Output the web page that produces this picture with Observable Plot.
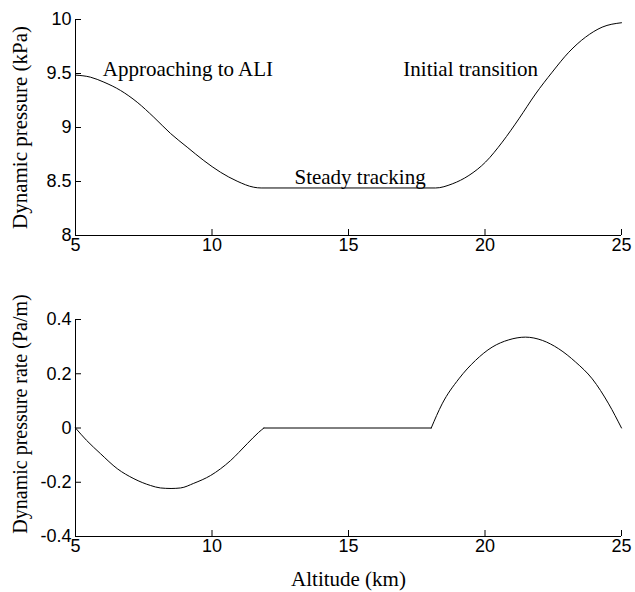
<!DOCTYPE html>
<html>
<head>
<meta charset="utf-8">
<script src="https://cdn.jsdelivr.net/npm/d3@7"></script>
<script src="https://cdn.jsdelivr.net/npm/@observablehq/plot@0.6"></script>
<style>
  body { margin: 0; background: #fff; }
  #chart { width: 635px; }
  #chart svg { display: block; background: #fff; }
  #chart svg text { font-family: "Liberation Sans", Arial, sans-serif; font-size: 18px; fill: #000; }
  #chart svg text.serif, #chart svg g.serif text { font-family: "Liberation Serif", "Times New Roman", serif; font-size: 21px; }
  #chart svg g.serif-small text { font-family: "Liberation Serif", "Times New Roman", serif; font-size: 20px; }
</style>
</head>
<body>
<div id="chart"></div>
<script>
// Top panel: dynamic pressure (kPa) vs altitude (km)
const altTop = [5, 5.55, 6.04, 6.65, 7.26, 7.87, 8.48, 9.09, 9.7, 10.31, 10.92, 11.53, 11.8,
                18.19, 18.8, 19.41, 20.02, 20.63, 21.24, 21.85, 22.46, 23.07, 23.68, 24.29, 25];
const pressure = [9.485, 9.466, 9.42, 9.343, 9.234, 9.095, 8.945, 8.818, 8.694, 8.586, 8.503, 8.447, 8.44,
                  8.44, 8.478, 8.556, 8.68, 8.864, 9.08, 9.31, 9.512, 9.697, 9.836, 9.929, 9.97];

// Bottom panel: dynamic pressure rate (Pa/m) vs altitude (km), by flight phase
const altBottom = [5, 5.4, 5.92, 6.53, 7.14, 7.75, 8.11, 8.5, 8.85, 9.33, 9.95, 10.68, 11.29, 11.71, 11.9,
                   11.9, 18.03,
                   18.03, 18.43, 19.04, 19.65, 20.26, 20.87, 21.48, 22.1, 22.7, 23.32, 23.93, 24.53, 25];
const rate = [0, -0.045, -0.095, -0.15, -0.187, -0.212, -0.221, -0.223, -0.221, -0.204, -0.175, -0.12, -0.058, -0.016, 0,
              0, 0,
              0, 0.089, 0.181, 0.249, 0.298, 0.325, 0.335, 0.323, 0.292, 0.243, 0.181, 0.089, 0];
const phase = [...Array(15).fill("approach"), ...Array(2).fill("steady"), ...Array(13).fill("initial")];

// Annotations (data coordinates, text baseline)
const noteText = ["Approaching to ALI", "Initial transition", "Steady tracking"];
const noteX = [6.0, 17.01, 13.02];
const noteY = [9.537, 9.537, 8.528];

const xTicks = [5, 10, 15, 20, 25];
const yTicksTop = [8, 8.5, 9, 9.5, 10];
const yTicksBottom = [-0.4, -0.2, 0, 0.2, 0.4];

const topData = altTop.map((a, i) => ({alt: a, q: pressure[i]}));
const bottomData = altBottom.map((a, i) => ({alt: a, r: rate[i], phase: phase[i]}));
const notes = noteText.map((t, i) => ({t, x: noteX[i], y: noteY[i]}));

const common = {width: 635, marginLeft: 75, marginRight: 14, style: {background: "#fff", color: "#000"}};
const serif = {fontFamily: "Liberation Serif, Times New Roman, serif", fontSize: 21, fill: "#000", className: "serif"};

const topPlot = Plot.plot({
  ...common,
  height: 290, marginTop: 19, marginBottom: 55,
  x: {domain: [5, 25]},
  y: {domain: [8, 10]},
  marks: [
    Plot.ruleX([5], {stroke: "#000", strokeWidth: 1}),
    Plot.ruleY([8], {stroke: "#000", strokeWidth: 1}),
    Plot.axisX(xTicks, {tickSize: -6, tickPadding: 9, label: null, tickFormat: d => String(d)}),
    Plot.axisY(yTicksTop, {tickSize: -6, tickPadding: 10, label: null, tickFormat: d => String(d)}),
    Plot.text(["Dynamic pressure (kPa)"], {...serif, frameAnchor: "left", textAnchor: "middle", rotate: -90, dx: -55, dy: 0, lineAnchor: "middle"}),
    Plot.line(topData, {x: "alt", y: "q", stroke: "#000", strokeWidth: 1, curve: "monotone-x"}),
    Plot.text(notes, {...serif, x: "x", y: "y", text: "t", textAnchor: "start", lineAnchor: "bottom", dy: 6})
  ]
});

const bottomPlot = Plot.plot({
  ...common,
  height: 302, marginTop: 29, marginBottom: 56,
  x: {domain: [5, 25]},
  y: {domain: [-0.4, 0.4]},
  marks: [
    Plot.ruleX([5], {stroke: "#000", strokeWidth: 1}),
    Plot.ruleY([-0.4], {stroke: "#000", strokeWidth: 1}),
    Plot.axisX(xTicks, {tickSize: -6, tickPadding: 9, label: null, tickFormat: d => String(d)}),
    Plot.axisY(yTicksBottom, {tickSize: -6, tickPadding: 10, label: null, tickFormat: d => String(d)}),
    Plot.text(["Dynamic pressure rate (Pa/m)"], {...serif, fontSize: 20, className: "serif-small", frameAnchor: "left", textAnchor: "middle", rotate: -90, dx: -55, dy: -14, lineAnchor: "middle"}),
    Plot.text(["Altitude (km)"], {...serif, frameAnchor: "bottom", textAnchor: "middle", dy: 49, lineAnchor: "bottom"}),
    Plot.line(bottomData, {x: "alt", y: "r", z: "phase", stroke: "#000", strokeWidth: 1, curve: "monotone-x"})
  ]
});

document.getElementById("chart").append(topPlot, bottomPlot);
</script>
</body>
</html>
